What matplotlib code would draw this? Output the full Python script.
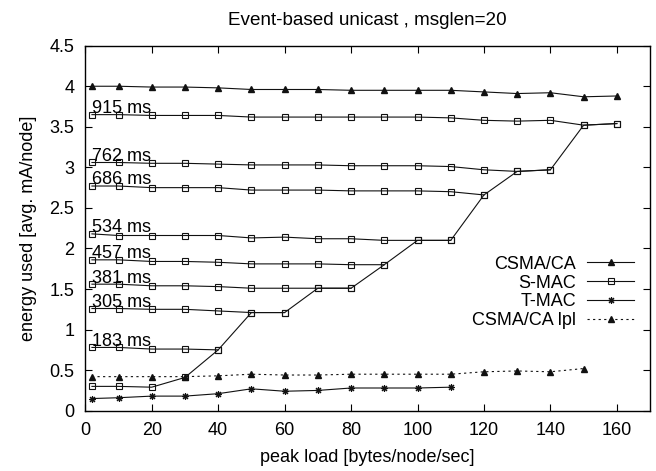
"""Energy use vs. peak load, event-based unicast (msglen=20)."""

import matplotlib

matplotlib.use("Agg")
import matplotlib.pyplot as plt
from matplotlib.ticker import FuncFormatter, MultipleLocator

plt.rcParams["font.family"] = ["Liberation Sans", "DejaVu Sans"]
plt.rcParams["font.size"] = 13

# peak load [bytes/node/sec]
loads = [2, 10, 20, 30, 40, 50, 60, 70, 80, 90, 100, 110, 120, 130, 140, 150, 160]

csma = [4.00, 4.00, 3.99, 3.99, 3.98, 3.96, 3.96, 3.96, 3.95, 3.95, 3.95, 3.95,
        3.93, 3.91, 3.92, 3.87, 3.88]
csma_lpl = [0.42, 0.42, 0.42, 0.42, 0.43, 0.45, 0.44, 0.44, 0.45, 0.45, 0.45, 0.45,
            0.48, 0.49, 0.48, 0.52]
tmac = [0.15, 0.16, 0.18, 0.18, 0.21, 0.27, 0.24, 0.25, 0.28, 0.28, 0.28, 0.29]

# S-MAC at fixed frame times, each runs until it joins the adaptive curve
smac_frames = ["915 ms", "762 ms", "686 ms", "534 ms", "457 ms", "381 ms", "305 ms", "183 ms"]
smac_fixed = [
    [3.65, 3.65, 3.64, 3.64, 3.64, 3.62, 3.62, 3.62, 3.62, 3.62, 3.62, 3.61,
     3.58, 3.57, 3.58, 3.52, 3.54],
    [3.06, 3.06, 3.05, 3.05, 3.04, 3.03, 3.03, 3.03, 3.02, 3.02, 3.02, 3.01,
     2.97, 2.95, 2.97],
    [2.77, 2.77, 2.75, 2.75, 2.75, 2.72, 2.72, 2.72, 2.71, 2.71, 2.71, 2.70, 2.66],
    [2.18, 2.16, 2.16, 2.16, 2.16, 2.13, 2.14, 2.12, 2.12, 2.10, 2.10, 2.10],
    [1.86, 1.86, 1.84, 1.84, 1.83, 1.81, 1.81, 1.81, 1.80, 1.80],
    [1.56, 1.56, 1.54, 1.54, 1.53, 1.51, 1.51, 1.51, 1.51],
    [1.26, 1.26, 1.25, 1.25, 1.23, 1.21, 1.21],
    [0.78, 0.78, 0.76, 0.76, 0.75],
]
smac_adaptive = [0.30, 0.30, 0.29, 0.41, 0.75, 1.21, 1.21, 1.51, 1.51, 1.80, 2.10,
                 2.10, 2.66, 2.95, 2.97, 3.52, 3.54]


def main() -> None:
    fig = plt.figure(figsize=(6.56, 4.71), dpi=100)
    ax = fig.add_axes([0.130, 0.128, 0.861, 0.775])

    line_kw = dict(color="#111111", linewidth=0.8)
    ax.plot(loads, csma, marker="^", markersize=4, label="CSMA/CA", **line_kw)
    for i, vals in enumerate(smac_fixed):
        ax.plot(loads[:len(vals)], vals, marker="s", markersize=4.5,
                markerfacecolor="none", markeredgewidth=0.8,
                label="S-MAC" if i == 0 else None, **line_kw)
        ax.text(loads[0], vals[0] + 0.02, smac_frames[i], ha="left",
                va="baseline", fontsize=13)
    ax.plot(loads, smac_adaptive, marker="s", markersize=4.5,
            markerfacecolor="none", markeredgewidth=0.8, **line_kw)
    ax.plot(loads[:len(tmac)], tmac, marker=(8, 2, 0), markersize=5,
            markeredgewidth=0.8, label="T-MAC", **line_kw)
    ax.plot(loads[:len(csma_lpl)], csma_lpl, marker="^", markersize=4,
            linestyle=(0, (2, 3)), label="CSMA/CA lpl", color="#111111",
            linewidth=0.8)

    ax.set_xlim(0, 170)
    ax.set_ylim(0, 4.5)
    ax.xaxis.set_major_locator(MultipleLocator(20))
    ax.yaxis.set_major_locator(MultipleLocator(0.5))
    ax.yaxis.set_major_formatter(FuncFormatter(lambda v, _: f"{v:g}"))
    ax.tick_params(direction="in", length=5, width=0.8, top=True, right=True,
                   labelsize=13, pad=8)
    for spine in ax.spines.values():
        spine.set_linewidth(1.0)

    ax.set_xlabel("peak load [bytes/node/sec]", fontsize=13, labelpad=7)
    ax.set_ylabel("energy used [avg. mA/node]", fontsize=13, labelpad=9)
    ax.set_title("Event-based unicast , msglen=20", fontsize=13.6, pad=15)

    ax.legend(loc="center right", bbox_to_anchor=(634 / 656, 1 - 292.5 / 471),
              bbox_transform=fig.transFigure, frameon=False, markerfirst=False,
              handlelength=2.6, handletextpad=0.6, labelspacing=0.1,
              borderpad=0, borderaxespad=0, fontsize=13)

    fig.savefig("out.png", dpi=100)
    plt.close(fig)


if __name__ == "__main__":
    main()
